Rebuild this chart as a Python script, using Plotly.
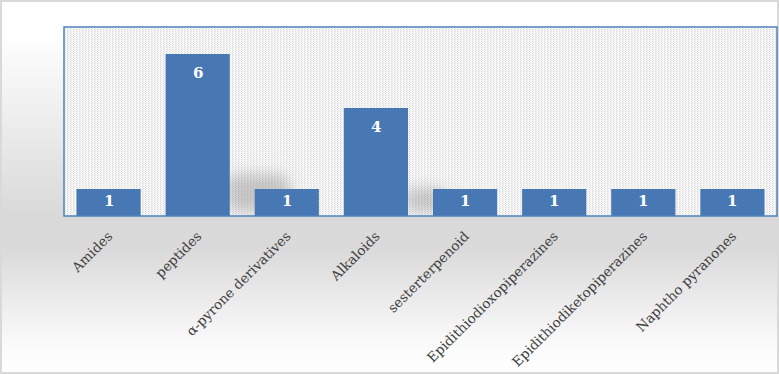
import base64
import plotly.graph_objects as go

categories = ["Amides", "peptides", "α-pyrone derivatives", "Alkaloids",
              "sesterterpenoid", "Epidithiodioxopiperazines",
              "Epidithiodiketopiperazines", "Naphtho pyranones"]
counts = [1, 6, 1, 4, 1, 1, 1, 1]

W, H = 779, 374
L, R, T, B = 64, 2, 27, 158
pw, ph = W - L - R, H - T - B
BAR_W = 0.72
YMAX = 7


def svg_uri(svg):
    return "data:image/svg+xml;base64," + base64.b64encode(svg.encode()).decode()


bg_svg = f'''<svg xmlns="http://www.w3.org/2000/svg" width="{W}" height="{H}" viewBox="0 0 {W} {H}">
<defs><linearGradient id="g" x1="0" y1="0" x2="0" y2="1">
<stop offset="0" stop-color="#ffffff"/><stop offset="0.1" stop-color="#fefefe"/>
<stop offset="0.58" stop-color="#d9d9d9"/><stop offset="0.67" stop-color="#dadada"/>
<stop offset="0.8" stop-color="#ebebeb"/><stop offset="0.93" stop-color="#fbfbfb"/>
<stop offset="1" stop-color="#ffffff"/>
</linearGradient></defs>
<rect x="1" y="1" width="{W-2}" height="{H-2}" fill="url(#g)" stroke="#d9d9d9" stroke-width="2"/></svg>'''

# soft cast shadows behind the taller bars (decoration, derived from bar geometry)
cat_px = pw / len(categories)
shadows = ""
for i, v in enumerate(counts):
    if v > 1:
        s = v / max(counts)
        xr = (i + 0.5 + BAR_W / 2) * cat_px
        top = ph - 42 * s
        shadows += (f'<rect x="{xr - 4:.1f}" y="{top:.1f}" width="{60 * s + 4:.1f}" '
                    f'height="{ph - 4 - top:.1f}" rx="12" fill="#808080" '
                    f'fill-opacity="0.38" filter="url(#b)"/>')

pat_svg = f'''<svg xmlns="http://www.w3.org/2000/svg" width="{pw}" height="{ph}" viewBox="0 0 {pw} {ph}">
<defs><pattern id="p" width="3" height="2" patternUnits="userSpaceOnUse">
<rect width="3" height="2" fill="#f8f8f8"/><rect x="0" y="0" width="1" height="1" fill="#d6d6d6"/>
<rect x="1" y="1" width="1" height="1" fill="#e6e6e6"/></pattern>
<filter id="b" x="-50%" y="-50%" width="200%" height="200%"><feGaussianBlur stdDeviation="7"/></filter>
<clipPath id="c"><rect width="{pw}" height="{ph}"/></clipPath></defs>
<rect width="{pw}" height="{ph}" fill="url(#p)"/>
<g clip-path="url(#c)">{shadows}</g></svg>'''

fig = go.Figure()
fig.add_trace(go.Bar(
    x=categories, y=counts, width=BAR_W,
    marker=dict(color="#4878b4", line=dict(width=0)),
    hoverinfo="skip",
))

for c, v in zip(categories, counts):
    fig.add_annotation(x=c, y=v, text=str(v), showarrow=False,
                       yanchor="middle", yshift=-19 if v > 1 else -12,
                       font=dict(family="DejaVu Serif", size=15, color="white", weight="bold"))

fig.add_layout_image(source=svg_uri(bg_svg), xref="paper", yref="paper",
                     x=-L / pw, y=1 + T / ph, sizex=W / pw, sizey=H / ph,
                     xanchor="left", yanchor="top", sizing="stretch", layer="below")
fig.add_layout_image(source=svg_uri(pat_svg), xref="paper", yref="paper",
                     x=0, y=1, sizex=1, sizey=1,
                     xanchor="left", yanchor="top", sizing="stretch", layer="below")

fig.add_shape(type="rect", xref="paper", yref="paper", x0=0, y0=0, x1=1, y1=1,
              line=dict(color="#4f81bd", width=1.5), layer="above")

fig.update_layout(
    width=W, height=H,
    margin=dict(l=L, r=R, t=T, b=B),
    paper_bgcolor="white",
    plot_bgcolor="rgba(0,0,0,0)",
    showlegend=False,
    xaxis=dict(tickangle=-45, showgrid=False, zeroline=False,
               ticks="outside", ticklen=6, tickcolor="rgba(0,0,0,0)",
               tickfont=dict(family="DejaVu Serif", size=13.5, color="#404040"),
               showline=False),
    yaxis=dict(range=[0, YMAX], visible=False, showgrid=False, zeroline=False),
)

fig.write_html("out.html", config={"displayModeBar": False})
with open("out.html", encoding="utf-8") as f:
    html = f.read()
html = html.replace("<body>", '<body style="margin:0;padding:0;overflow:hidden">', 1)
with open("out.html", "w", encoding="utf-8") as f:
    f.write(html)
